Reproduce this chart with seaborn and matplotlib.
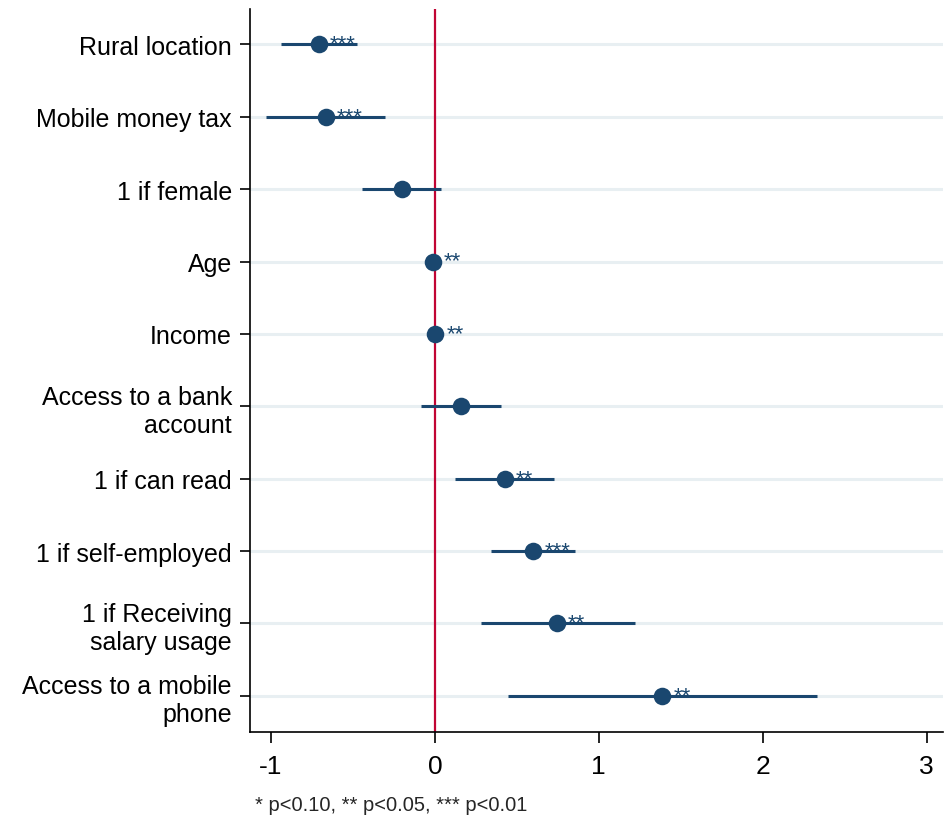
import matplotlib
matplotlib.use("Agg")
import matplotlib.pyplot as plt
import seaborn as sns
import pandas as pd
from matplotlib import font_manager

labels = ["Rural location", "Mobile money tax", "1 if female", "Age", "Income",
          "Access to a bank\naccount", "1 if can read", "1 if self-employed",
          "1 if Receiving\nsalary usage", "Access to a mobile\nphone"]
coef = [-0.708, -0.667, -0.203, -0.014, 0.002, 0.157, 0.425, 0.600, 0.746, 1.387]
ci_low = [-0.941, -1.029, -0.445, -0.020, -0.002, -0.085, 0.124, 0.342, 0.281, 0.445]
ci_high = [-0.474, -0.305, 0.038, -0.008, 0.006, 0.401, 0.724, 0.856, 1.218, 2.331]
stars = ["***", "***", "", "**", "**", "", "**", "***", "**", "**"]
xticks = [-1, 0, 1, 2, 3]
tick_labels = ["-1", "0", "1", "2", "3"]
note = "* p<0.10, ** p<0.05, *** p<0.01"

sns.set_theme(style="white")
names = {f.name for f in font_manager.fontManager.ttflist}
fam = ["Liberation Sans Narrow", "Liberation Sans", "DejaVu Sans"]
fam = [f for f in fam if f in names] + ["DejaVu Sans"]
plt.rcParams["font.family"] = fam

navy = "#1a476f"
red = "#c10534"
grid = "#e8eff2"

df = pd.DataFrame({"label": labels, "coef": coef, "lo": ci_low, "hi": ci_high,
                   "stars": stars})
df["pos"] = range(len(df))

fig = plt.figure(figsize=(9.48, 8.2), dpi=100)
ax = fig.add_axes([250/948, 1-733/820, (943-250)/948, (733-10)/820])

for p in df["pos"]:
    ax.axhline(p, color=grid, lw=2.2, zorder=0)
ax.axvline(0, color=red, lw=1.6, zorder=1)
ax.hlines(df["pos"], df["lo"], df["hi"], color=navy, lw=2.2, zorder=2)
sns.scatterplot(data=df, x="coef", y="pos", ax=ax, color=navy, s=160,
                edgecolor=navy, linewidth=0, zorder=3, legend=False)
for _, r in df.iterrows():
    if r["stars"]:
        ax.annotate(r["stars"], (r["coef"], r["pos"]), xytext=(11, -5),
                    textcoords="offset pixels", ha="left", va="baseline",
                    fontsize=16, color=navy, zorder=4)

ax.set_xlim(-1.128, 3.10)
ax.set_ylim(9.5, -0.49)
ax.set_xticks(xticks)
ax.set_xticklabels(tick_labels)
ax.set_yticks(df["pos"])
ax.set_yticklabels(df["label"], linespacing=1.2)
for t in ax.get_yticklabels():
    t.set_multialignment("right")
ax.tick_params(axis="both", labelsize=18, colors="black", direction="out",
               length=7, width=1.2, left=True, bottom=True)
ax.tick_params(axis="x", pad=8, length=8, labelsize=19)
ax.tick_params(axis="y", pad=6)
ax.set_xlabel("")
ax.set_ylabel("")
for s in ["top", "right"]:
    ax.spines[s].set_visible(False)
for s in ["left", "bottom"]:
    ax.spines[s].set_color("black")
    ax.spines[s].set_linewidth(1.2)

fig.text(255/948, 1-806/820, note, fontsize=14.5, ha="left", va="center")
fig.savefig("out.png", dpi=100, facecolor="white")
